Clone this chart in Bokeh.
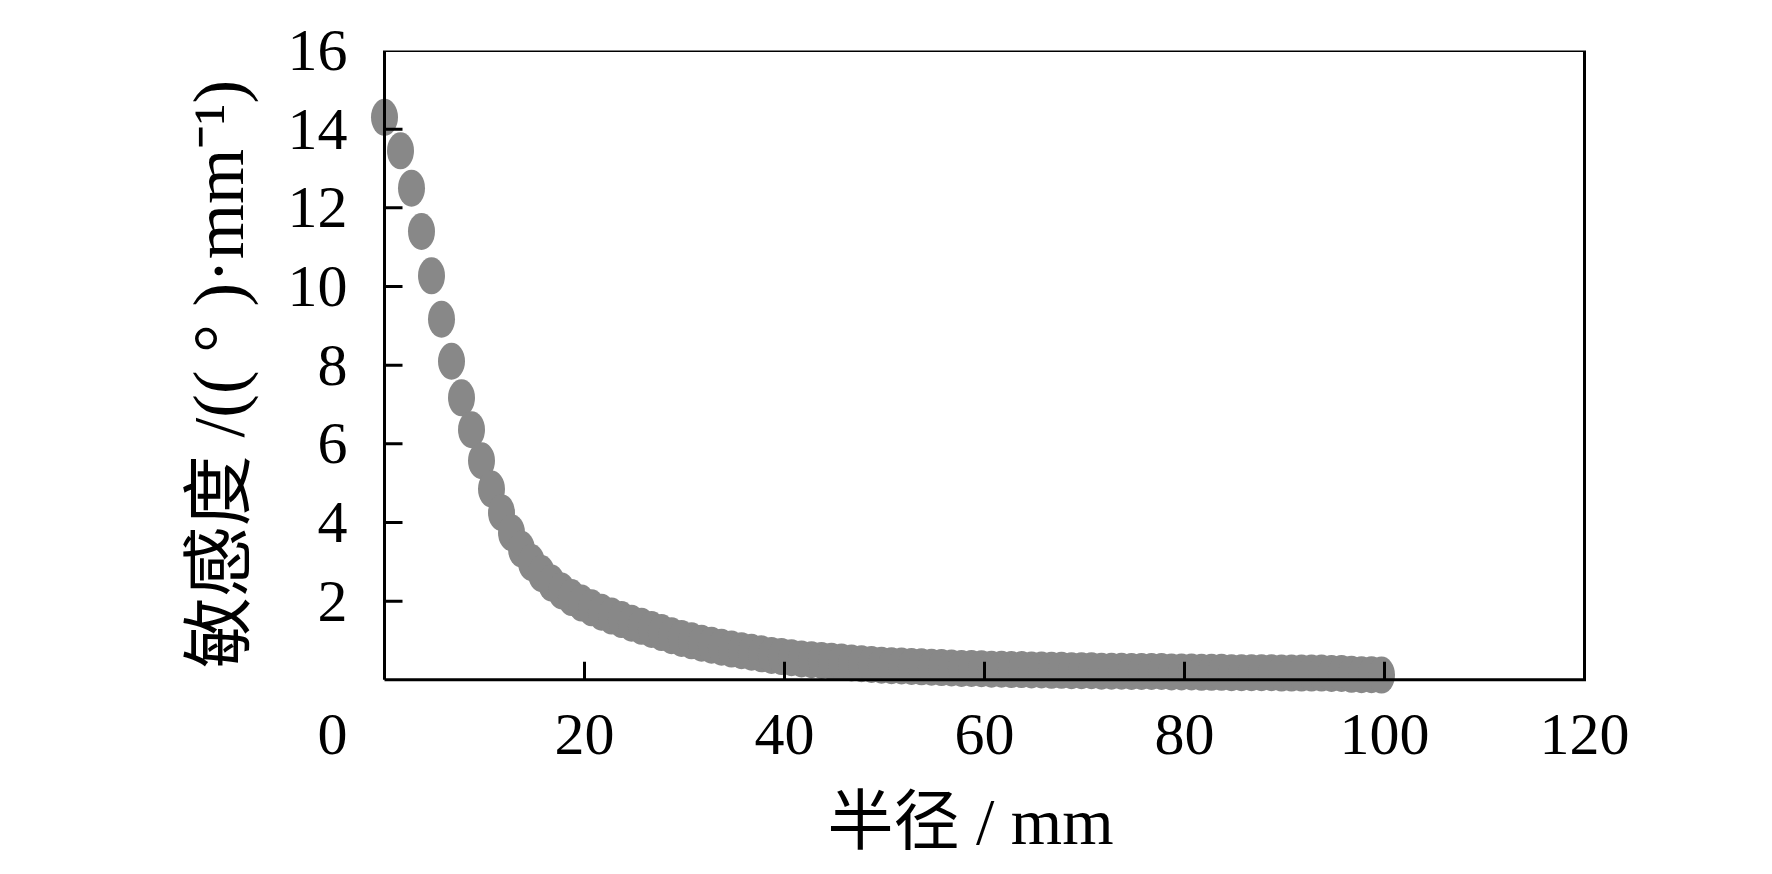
from bokeh.plotting import figure
from bokeh.models import Range1d, FixedTicker, ColumnDataSource, CustomJSTickFormatter
from bokeh.embed import file_html
from bokeh.resources import INLINE

# ---- data ----
radius_mm = [0, 1.6, 2.7, 3.7, 4.7, 5.7, 6.7, 7.7, 8.7, 9.7,
             10.7, 11.7, 12.7, 13.7, 14.7, 15.7, 16.7, 17.7, 18.7, 19.7,
             20.7, 21.7, 22.7, 23.7, 24.7, 25.7, 26.7, 27.7, 28.7, 29.7,
             30.7, 31.7, 32.7, 33.7, 34.7, 35.7, 36.7, 37.7, 38.7, 39.7,
             40.7, 41.7, 42.7, 43.7, 44.7, 45.7, 46.7, 47.7, 48.7, 49.7,
             50.7, 51.7, 52.7, 53.7, 54.7, 55.7, 56.7, 57.7, 58.7, 59.7,
             60.7, 61.7, 62.7, 63.7, 64.7, 65.7, 66.7, 67.7, 68.7, 69.7,
             70.7, 71.7, 72.7, 73.7, 74.7, 75.7, 76.7, 77.7, 78.7, 79.7,
             80.7, 81.7, 82.7, 83.7, 84.7, 85.7, 86.7, 87.7, 88.7, 89.7,
             90.7, 91.7, 92.7, 93.7, 94.7, 95.7, 96.7, 97.7, 98.7, 99.7]
sensitivity = [14.3, 13.45, 12.5, 11.4, 10.27, 9.17, 8.1, 7.17, 6.36, 5.57,
               4.85, 4.25, 3.74, 3.32, 2.98, 2.7, 2.46, 2.26, 2.09, 1.95,
               1.83, 1.72, 1.62, 1.53, 1.44, 1.36, 1.28, 1.2, 1.12, 1.05,
               0.99, 0.93, 0.88, 0.83, 0.78, 0.74, 0.7, 0.66, 0.62, 0.59,
               0.56, 0.53, 0.51, 0.49, 0.47, 0.45, 0.43, 0.41, 0.39, 0.37,
               0.36, 0.35, 0.34, 0.33, 0.32, 0.31, 0.30, 0.29, 0.29, 0.28,
               0.27, 0.27, 0.26, 0.26, 0.25, 0.25, 0.24, 0.24, 0.23, 0.23,
               0.23, 0.22, 0.22, 0.22, 0.21, 0.21, 0.21, 0.21, 0.2, 0.2,
               0.2, 0.19, 0.19, 0.19, 0.18, 0.18, 0.18, 0.18, 0.18, 0.17,
               0.17, 0.17, 0.17, 0.17, 0.16, 0.16, 0.14, 0.13, 0.13, 0.12]

x_ticks = [20, 40, 60, 80, 100, 120]
y_ticks = [2, 4, 6, 8, 10, 12, 14, 16]
origin_label = "0"
origin_label_pos = -5.2      # the "0" sits left of the corner in the reference
x_min, x_max = 0, 120
y_min, y_max = 0, 16

x_label = "半径 / mm"
y_label = "敏感度 /(( ° )·mm⁻¹)"

SERIF = "Liberation Serif"
MIXED = "'Liberation Serif', 'Noto Sans CJK SC'"

# frame is padded on both sides (invisible) so the shifted "0" can be drawn
# and the x-axis title sits where it does in the reference
X_START, X_END = -6.0, 123.2
p = figure(frame_width=1292, frame_height=647, output_backend="svg", toolbar_location=None,
           x_range=Range1d(X_START, X_END), y_range=Range1d(-0.45, y_max),
           min_border_left=324, min_border_right=72,
           min_border_top=50, min_border_bottom=150)
p.outline_line_color = None
p.grid.visible = False
p.background_fill_color = "white"
p.border_fill_color = "white"

src = ColumnDataSource(dict(x=radius_mm, y=sensitivity))
p.ellipse(x="x", y="y", width=27, height=37, width_units="screen",
          height_units="screen", source=src, fill_color="#888888",
          line_color=None)

# frame box
p.line(x=[x_min, x_max, x_max, x_min, x_min], y=[y_min, y_min, y_max, y_max, y_min],
       line_color="black", line_width=3, line_join="miter")
# inward ticks
xt = [t for t in x_ticks if t < x_max]
yt = [t for t in y_ticks if t < y_max]
p.segment(x0=xt, y0=[y_min] * len(xt), x1=xt, y1=[y_min + 0.46] * len(xt),
          line_color="black", line_width=3)
p.segment(x0=[x_min] * len(yt), y0=yt, x1=[x_min + 1.8] * len(yt), y1=yt,
          line_color="black", line_width=3)

for ax in (p.xaxis[0], p.yaxis[0]):
    ax.axis_line_color = None
    ax.major_tick_line_color = None
    ax.minor_tick_line_color = None
    ax.major_tick_in = 0
    ax.major_tick_out = 0
    ax.major_label_text_font = SERIF
    ax.major_label_text_font_size = "60px"
    ax.major_label_text_color = "black"
    ax.axis_label_text_font = MIXED
    ax.axis_label_text_font_style = "normal"
    ax.axis_label_text_color = "black"

p.xaxis.ticker = FixedTicker(ticks=[origin_label_pos] + x_ticks)
p.xaxis.formatter = CustomJSTickFormatter(
    args=dict(lab=origin_label),
    code="return tick < 0 ? lab : tick.toFixed(0);")
p.yaxis.ticker = FixedTicker(ticks=y_ticks)
p.xaxis.major_label_standoff = 17
p.yaxis.major_label_standoff = -23
p.xaxis.axis_label = x_label
p.yaxis.axis_label = y_label
p.xaxis.axis_label_text_font_size = "66px"
p.yaxis.axis_label_text_font_size = "71px"
p.xaxis.axis_label_standoff = 28
p.yaxis.axis_label_standoff = 27

open("out.html", "w").write(file_html(p, INLINE))
